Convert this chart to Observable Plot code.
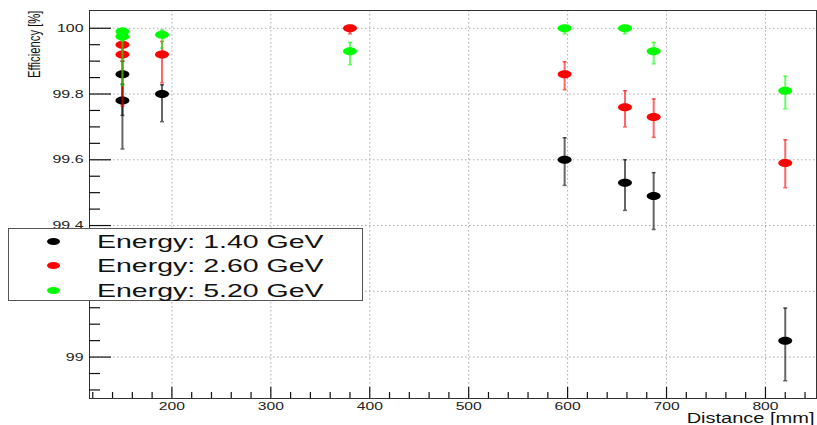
<!DOCTYPE html>
<html><head><meta charset="utf-8">
<script src="https://cdn.jsdelivr.net/npm/d3@7"></script>
<script src="https://cdn.jsdelivr.net/npm/@observablehq/plot@0.6"></script>
<style>
body{margin:0;background:#fff;}
#wrap{position:relative;width:817px;height:425px;font-family:"Liberation Sans",Arial,sans-serif;overflow:hidden;}
#legend{position:absolute;left:8px;top:228px;width:355px;height:73px;background:#fff;border:1px solid #555;box-sizing:border-box;}
.row{position:absolute;left:0;height:24px;display:flex;align-items:center;}
.mk{position:absolute;left:38px;width:13px;height:7px;border-radius:50%;}
.lt{position:absolute;left:88px;font-size:19px;line-height:19px;color:#111;white-space:nowrap;transform:scaleX(1.5);transform-origin:left center;}
</style>
</head><body>
<div id="wrap"><div id="legend"></div></div>
<script>
// ---- data ----
const seriesNames = ["Energy: 1.40 GeV", "Energy: 2.60 GeV", "Energy: 5.20 GeV"];
const seriesColors = ["#000000", "#ff0000", "#00ff00"];

const dist14 = [150, 150, 190, 597, 658, 687, 820];
const eff14  = [99.86, 99.78, 99.80, 99.60, 99.53, 99.49, 99.05];
const lo14   = [99.735, 99.633, 99.716, 99.522, 99.446, 99.388, 98.928];
const hi14   = [99.90, 99.83, 99.828, 99.667, 99.60, 99.561, 99.149];

const dist26 = [150, 150, 190, 380, 597, 658, 687, 820];
const eff26  = [99.95, 99.92, 99.92, 100.0, 99.86, 99.76, 99.73, 99.59];
const lo26   = [99.90, 99.763, 99.834, 99.983, 99.813, 99.70, 99.668, 99.515];
const hi26   = [99.975, 99.96, 99.96, 100.0, 99.898, 99.81, 99.785, 99.661];

const dist52 = [150, 150, 190, 380, 597, 658, 687, 820];
const eff52  = [99.99, 99.975, 99.98, 99.93, 100.0, 100.0, 99.93, 99.81];
const lo52   = [99.96, 99.826, 99.94, 99.889, 99.983, 99.983, 99.892, 99.755];
const hi52   = [100.0, 99.995, 99.995, 99.957, 100.0, 100.0, 99.957, 99.854];

const xMajor = [200, 300, 400, 500, 600, 700, 800];
const xMinor = [120,140,160,180,220,240,260,280,320,340,360,380,420,440,460,480,520,540,560,580,620,640,660,680,720,740,760,780,820,840];
const yMajor = [99, 99.2, 99.4, 99.6, 99.8, 100];
const yLabels = ["99", "99.2", "99.4", "99.6", "99.8", "100"];
const yMinor = [98.9, 98.95, 99.05, 99.1, 99.15, 99.25, 99.3, 99.35, 99.45, 99.5, 99.55, 99.65, 99.7, 99.75, 99.85, 99.9, 99.95];
const xTitle = "Distance [mm]";
const yTitle = "Efficiency [%]";

// ---- symbols ----
const ellipseSym = {draw(ctx) {
  const rx = 7, ry = 4, k = 0.5523;
  ctx.moveTo(rx, 0);
  ctx.bezierCurveTo(rx, ry*k, rx*k, ry, 0, ry);
  ctx.bezierCurveTo(-rx*k, ry, -rx, ry*k, -rx, 0);
  ctx.bezierCurveTo(-rx, -ry*k, -rx*k, -ry, 0, -ry);
  ctx.bezierCurveTo(rx*k, -ry, rx, -ry*k, rx, 0);
  ctx.closePath();
}};
const capSym = {draw(ctx) { ctx.moveTo(-2, 0); ctx.lineTo(2, 0); }};

function seriesMarks(xs, ys, lo, hi, color) {
  const rows = xs.map((x, i) => ({x, y: ys[i], lo: lo[i], hi: hi[i]}));
  return [
    Plot.ruleX(rows, {x: "x", y1: "lo", y2: "hi", stroke: color, strokeWidth: 2, strokeOpacity: 0.6}),
    Plot.dot(rows, {x: "x", y: "lo", symbol: capSym, fill: "none", stroke: color, strokeWidth: 1.5, strokeOpacity: 0.6}),
    Plot.dot(rows, {x: "x", y: "hi", symbol: capSym, fill: "none", stroke: color, strokeWidth: 1.5, strokeOpacity: 0.6}),
    Plot.dot(rows, {x: "x", y: "y", symbol: ellipseSym, fill: color, stroke: "none"})
  ];
}

const chart = Plot.plot({
  width: 817, height: 425,
  marginLeft: 89, marginRight: 1, marginTop: 10, marginBottom: 27,
  x: {domain: [116.7, 851.6]},
  y: {domain: [98.874, 100.054]},
  style: {fontFamily: "'Liberation Sans', Arial, sans-serif", background: "#fff", color: "#222"},
  marks: [
    Plot.gridX(xMajor, {stroke: "#aaa", strokeOpacity: 1, strokeDasharray: "1.5,2.5"}),
    Plot.gridY(yMajor, {stroke: "#aaa", strokeOpacity: 1, strokeDasharray: "1.5,2.5"}),
    Plot.frame({stroke: "#333"}),
    Plot.ruleX(xMajor, {insetTop: 377, stroke: "#111", strokeWidth: 1.2}),
    Plot.ruleX(xMinor, {insetTop: 382, stroke: "#111", strokeWidth: 1.2}),
    Plot.ruleY(yMajor, {insetRight: 705, stroke: "#111", strokeWidth: 1.2}),
    Plot.ruleY(yMinor, {insetRight: 716, stroke: "#111", strokeWidth: 1.2}),
    Plot.axisX(xMajor, {tickSize: 0, tickPadding: 3.5, fontSize: 10.8, label: null}),
    Plot.axisY(yMajor, {tickSize: 0, tickPadding: 6, fontSize: 11, label: null, tickFormat: d => yLabels[yMajor.indexOf(d)]}),
    ...seriesMarks(dist14, eff14, lo14, hi14, seriesColors[0]),
    ...seriesMarks(dist26, eff26, lo26, hi26, seriesColors[1]),
    ...seriesMarks(dist52, eff52, lo52, hi52, seriesColors[2]),
    Plot.text([xTitle], {frameAnchor: "bottom-right", text: d => d, textAnchor: "end", lineAnchor: "bottom", dy: 24, dx: -2, fontSize: 13.8, fill: "#111"}),
    Plot.text([yTitle], {frameAnchor: "top-left", text: d => d, rotate: -90, textAnchor: "end", lineAnchor: "bottom", dx: -50, fontSize: 11.3, fill: "#111"})
  ]
});
const wrap = document.getElementById("wrap");
wrap.insertBefore(chart, wrap.firstChild);

// stretch text horizontally, as in the reference image
d3.select(chart).selectAll("text").each(function() {
  if (this.textContent === yTitle) {
    const t = this.getAttribute("transform") || "";
    this.setAttribute("transform", t + " scale(1,1.5)");
  } else {
    const L = this.getComputedTextLength();
    this.setAttribute("textLength", L * 1.45);
    this.setAttribute("lengthAdjust", "spacingAndGlyphs");
  }
});

// legend
const legend = document.getElementById("legend");
seriesNames.forEach((name, i) => {
  const row = document.createElement("div");
  row.className = "row";
  row.style.top = (0.5 + i * 24.3) + "px";
  row.style.width = "100%";
  const mk = document.createElement("div");
  mk.className = "mk";
  mk.style.background = seriesColors[i];
  mk.style.top = "8.5px";
  const lt = document.createElement("div");
  lt.className = "lt";
  lt.textContent = name;
  lt.style.top = "2.5px";
  row.appendChild(mk);
  row.appendChild(lt);
  legend.appendChild(row);
});
</script>
</body></html>
